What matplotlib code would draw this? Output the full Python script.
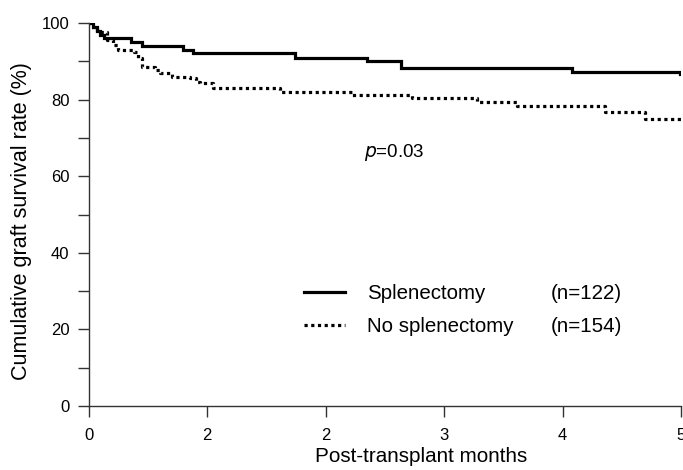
import matplotlib
matplotlib.use("Agg")
import matplotlib.pyplot as plt
from matplotlib.lines import Line2D

plt.rcParams['font.family'] = ['Liberation Sans', 'DejaVu Sans']

# Kaplan-Meier step data (time in axis units, survival %)
spl_t = [0, 0.034, 0.068, 0.093, 0.127, 0.355, 0.448, 0.794, 0.878, 1.74, 2.35, 2.64, 4.08, 4.99, 5.0]
spl_s = [100, 99, 98, 97, 96, 95, 94, 93, 92.1, 90.9, 90.1, 88.2, 87.3, 86.6, 86.6]

nos_t = [0, 0.017, 0.068, 0.152, 0.203, 0.245, 0.380, 0.414, 0.448, 0.557, 0.600,
         0.701, 0.853, 0.904, 0.937, 1.047, 1.613, 2.221, 2.728, 3.277, 3.615, 4.358, 4.696, 5.0]
nos_s = [100, 99, 97.7, 95.6, 94.3, 93.0, 92.5, 90.9, 88.6, 87.7, 86.9,
         86.0, 85.6, 84.7, 84.3, 83.0, 82.1, 81.2, 80.3, 79.5, 78.3, 76.7, 74.9, 74.3]

series_labels = ["Splenectomy", "No splenectomy"]
series_n = ["(n=122)", "(n=154)"]
x_ticks = [0, 1, 2, 3, 4, 5]
x_ticklabels = ["0", "2", "2", "3", "4", "5"]
y_major = [0, 20, 40, 60, 80, 100]
y_minor = [10, 30, 50, 70, 90]

fig = plt.figure(figsize=(6.83, 4.70), dpi=100)
ax = fig.add_axes([0.130, 0.136, 0.867, 0.815])

ax.step(spl_t, spl_s, where='post', color='black', lw=2.3, solid_joinstyle='miter')
ax.step(nos_t, nos_s, where='post', color='black', lw=2.3, linestyle=(0, (1, 1.1)))

ax.set_xlim(0, 5)
ax.set_ylim(0, 100)
ax.set_xticks(x_ticks)
ax.set_xticklabels(x_ticklabels)
ax.set_yticks(y_major)
ax.set_yticks(y_minor, minor=True)

for s in ['top', 'right']:
    ax.spines[s].set_visible(False)
for s in ['left', 'bottom']:
    ax.spines[s].set_color('#333333')
    ax.spines[s].set_linewidth(1.0)
ax.spines['left'].set_bounds(0, 100)

ax.tick_params(axis='both', which='both', direction='out', length=8, width=1.0,
               color='#333333', labelsize=12, pad=6)
ax.tick_params(axis='x', pad=8)

ax.set_xlabel("Post-transplant months", fontsize=14.9, labelpad=3)
ax.xaxis.label.set_x(0.561)
ax.set_ylabel("Cumulative graft survival rate (%)", fontsize=15.5, labelpad=7)
ax.yaxis.label.set_y(0.483)

ax.text(2.58, 66.3, r"$\it{p}$=0.03", fontsize=13.5, ha='center', va='center')

handles = [Line2D([], [], color='black', lw=2.3),
           Line2D([], [], color='black', lw=2.3, linestyle=(0, (1, 1.1)))]
leg = ax.legend(handles, series_labels, loc='upper left', bbox_to_anchor=(0.350, 0.340),
                frameon=False, fontsize=14.8, handlelength=2.0, handletextpad=1.05,
                labelspacing=0.7, borderaxespad=0)
fig.canvas.draw()
texts = leg.get_texts()
for t, n in zip(texts, series_n):
    bb = t.get_window_extent()
    yc = (bb.y0 + bb.y1) / 2
    xa, ya = ax.transAxes.inverted().transform((0, yc))
    ax.text(0.780, ya, n, transform=ax.transAxes, fontsize=14.8, ha='left', va='center')

fig.savefig("out.png", dpi=100)
